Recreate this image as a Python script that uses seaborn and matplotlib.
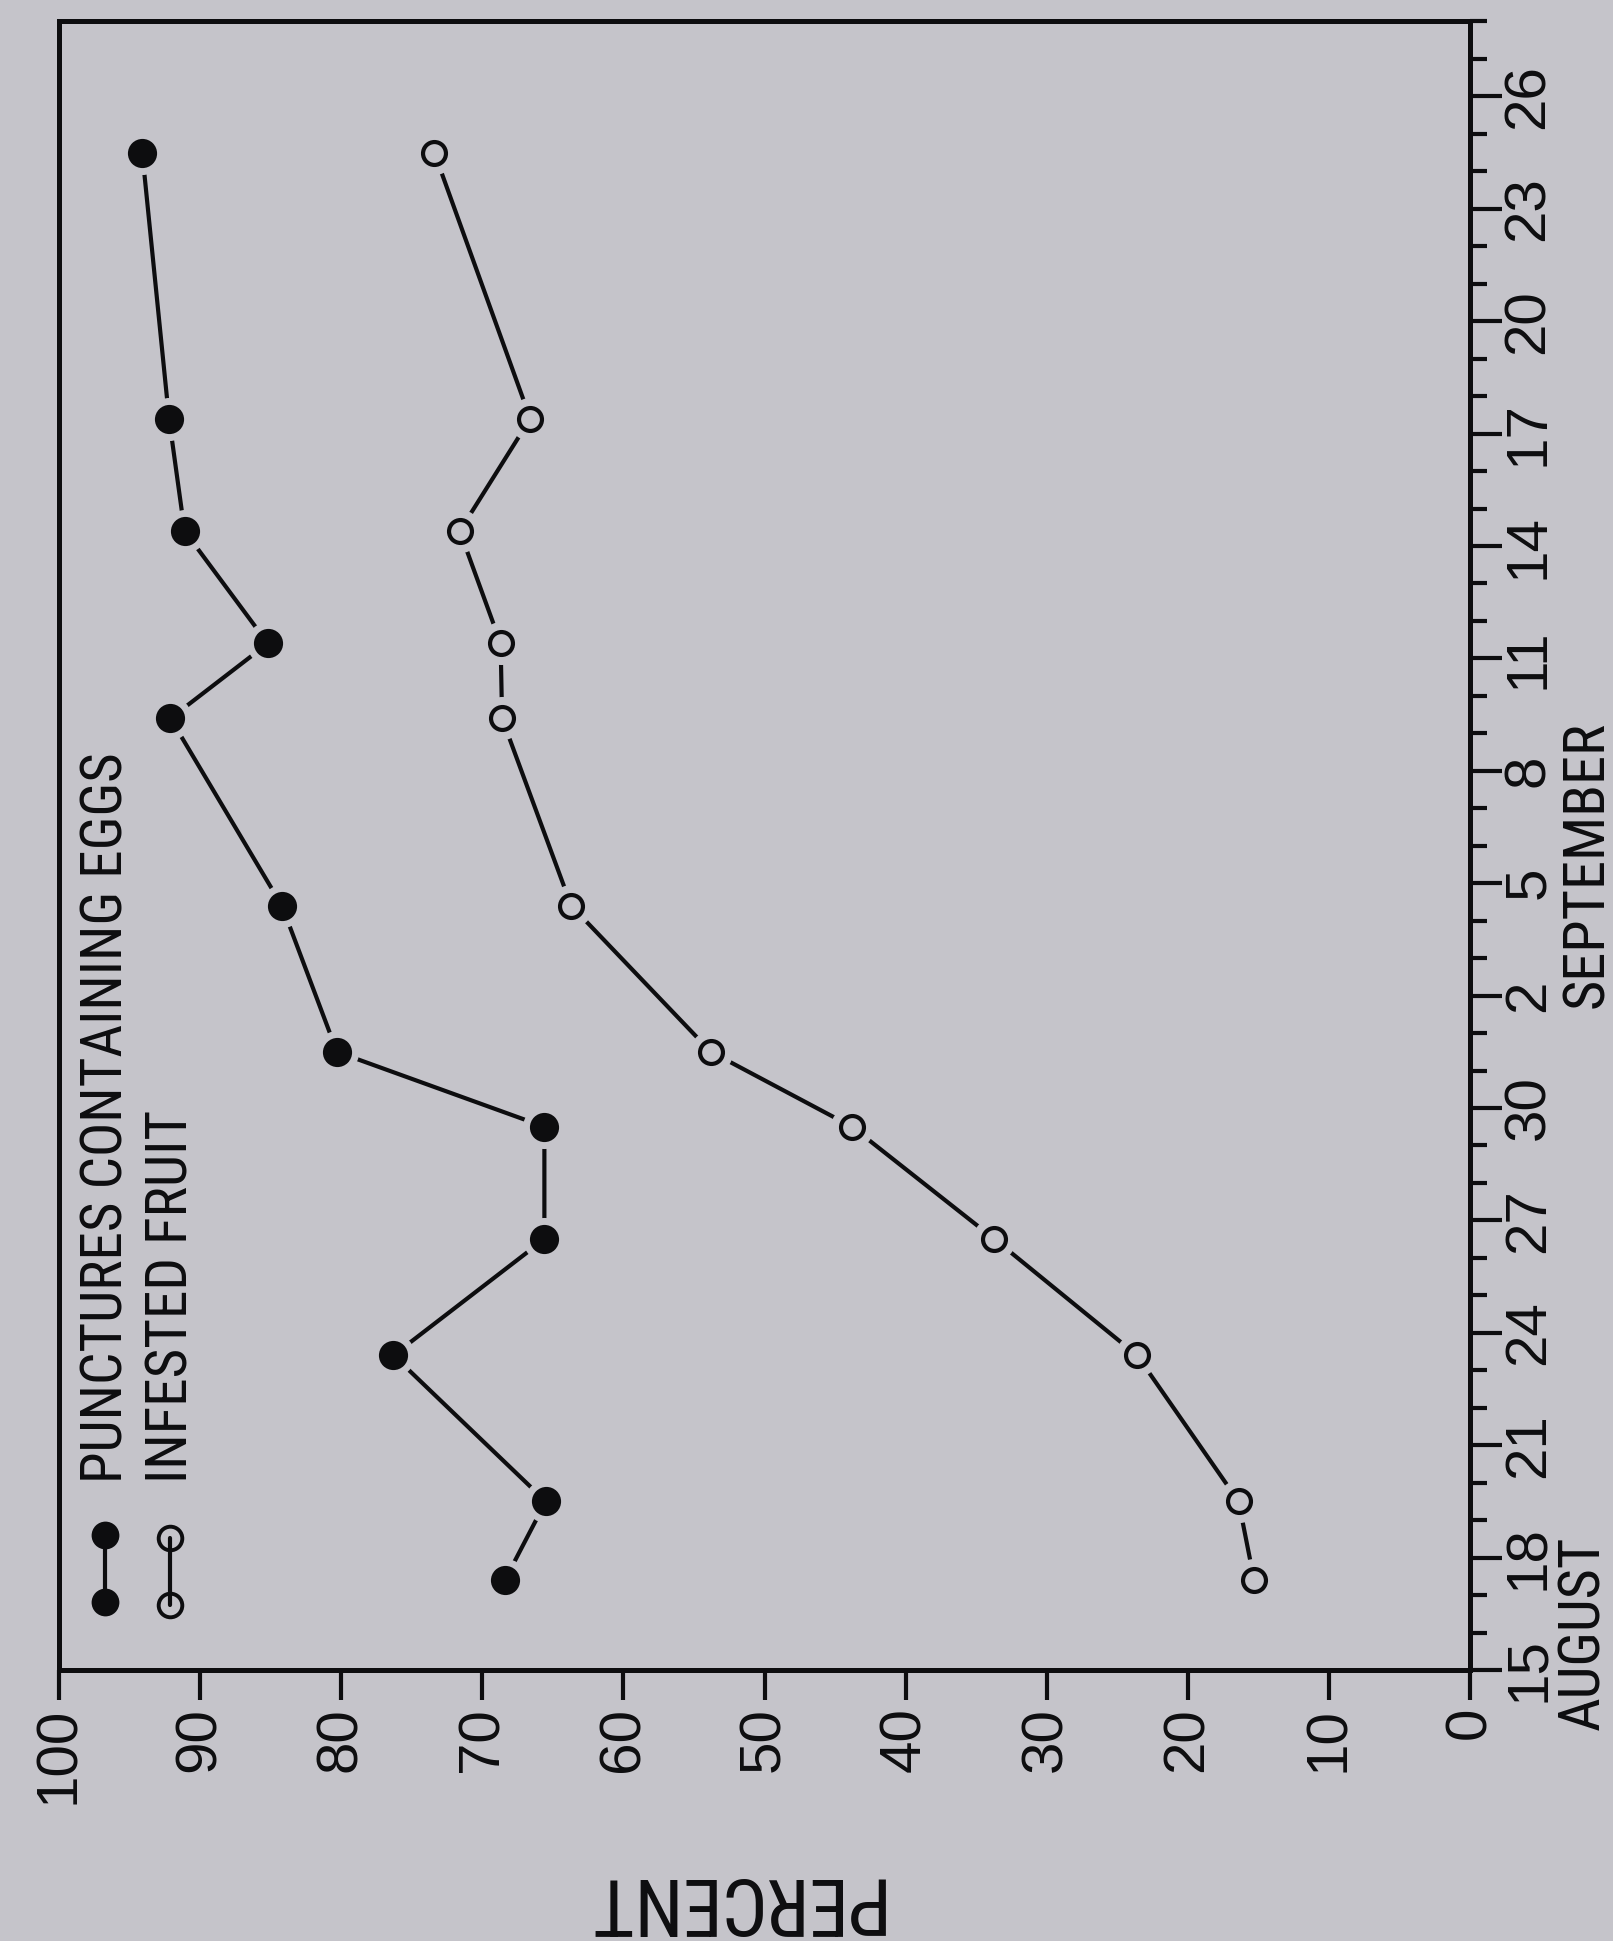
import matplotlib
matplotlib.use("Agg")
import matplotlib.pyplot as plt
import numpy as np
import pandas as pd
import seaborn as sns
from matplotlib import font_manager
from matplotlib.font_manager import FontProperties
from matplotlib.ticker import FixedLocator

# ---- data -----------------------------------------------------------------
# sampling dates as days after 15 August
sample_day = [2.4, 4.5, 8.4, 11.5, 14.5, 16.5, 20.4, 25.4, 27.4, 30.4, 33.4, 40.5]
punctures_with_eggs = [68.4, 65.5, 76.3, 65.6, 65.6, 80.3, 84.2, 92.1, 85.2, 91.1, 92.2, 94.1]
infested_fruit = [15.3, 16.4, 23.6, 33.7, 43.8, 53.8, 63.7, 68.6, 68.7, 71.6, 66.6, 73.4]

series_names = ["PUNCTURES CONTAINING EGGS", "INFESTED FRUIT"]
percent_ticks = list(range(0, 101, 10))
day_ticks = list(range(0, 43, 3))
day_tick_labels = ["15", "18", "21", "24", "27", "30", "2", "5", "8",
                   "11", "14", "17", "20", "23", "26"]
day_minor_ticks = [d for d in range(1, 45) if d % 3]
month_names = ["AUGUST", "SEPTEMBER"]
axis_title = "PERCENT"

# ---- style ----------------------------------------------------------------
BG = "#c5c4ca"
INK = "#0d0d0f"

sns.set_style("white")
installed = {f.name for f in font_manager.fontManager.ttflist}
DIGIT_FONT = "Liberation Sans" if "Liberation Sans" in installed else "DejaVu Sans"
plt.rcParams["font.family"] = [DIGIT_FONT, "DejaVu Sans"]


def condensed_font_file():
    """Return a narrow sans-serif face for the lettering, if one is installed."""
    entries = font_manager.fontManager.ttflist
    regular = lambda f: f.style == "normal" and f.weight in (400, "normal", "regular")
    for name in ["Liberation Sans Narrow", "Roboto Condensed", "Open Sans Condensed",
                 "DejaVu Sans Condensed", "Noto Sans Condensed"]:
        for f in entries:
            if f.name == name and regular(f):
                return f.fname
    for f in entries:
        if (f.stretch in ("condensed", "semi-condensed") and regular(f)
                and "Mono" not in f.name and "Serif" not in f.name):
            return f.fname
    return None


_narrow = condensed_font_file()
LETTER_FP = FontProperties(fname=_narrow) if _narrow else FontProperties(family=DIGIT_FONT)

W, H = 1613, 1941
fig = plt.figure(figsize=(W / 100, H / 100), dpi=100, facecolor=BG)
ax_left, ax_right, ax_bottom, ax_top = 59, 1470, 1670, 21.5
ax = fig.add_axes([ax_left / W, 1 - ax_bottom / H,
                   (ax_right - ax_left) / W, (ax_bottom - ax_top) / H])
ax.set_facecolor(BG)

df = pd.DataFrame({
    "day": sample_day * 2,
    "percent": punctures_with_eggs + infested_fruit,
    "series": [series_names[0]] * len(sample_day) + [series_names[1]] * len(sample_day),
})
filled = df[df["series"] == series_names[0]]
hollow = df[df["series"] == series_names[1]]

# connecting lines (the chart is drawn turned on its side: percent runs across)
sns.lineplot(data=df, x="percent", y="day", units="series", estimator=None,
             sort=False, color=INK, linewidth=3.0, legend=False, ax=ax, zorder=2)
# clear band around every point so the lines stop short of the markers
sns.scatterplot(data=df, x="percent", y="day", s=31 ** 2, color=BG,
                linewidth=0, legend=False, ax=ax, zorder=3)
sns.scatterplot(data=filled, x="percent", y="day", s=21 ** 2, color=INK,
                linewidth=0, legend=False, ax=ax, zorder=4)
sns.scatterplot(data=hollow, x="percent", y="day", s=16.5 ** 2, color=BG,
                edgecolor=INK, linewidth=3.0, legend=False, ax=ax, zorder=4)

# ---- axes -----------------------------------------------------------------
ax.set_xlim(100, 0)
ax.set_ylim(0, 44)
ax.set_xlabel("")
ax.set_ylabel("")
ax.xaxis.set_major_locator(FixedLocator(percent_ticks))
ax.set_xticklabels([str(v) for v in percent_ticks])
ax.yaxis.tick_right()
ax.yaxis.set_major_locator(FixedLocator(day_ticks))
ax.set_yticklabels(day_tick_labels)
ax.yaxis.set_minor_locator(FixedLocator(day_minor_ticks))

for s in ax.spines.values():
    s.set_visible(True)
    s.set_linewidth(3.6)
    s.set_color(INK)

ax.tick_params(axis="x", which="major", direction="out", length=21.5, width=3.0,
               color=INK, pad=5, labelsize=42, labelcolor=INK, labelrotation=90,
               bottom=True, top=False)
ax.tick_params(axis="y", which="major", direction="out", length=23, width=3.0,
               color=INK, pad=0, labelsize=42, labelcolor=INK,
               right=True, left=False, labelright=True, labelleft=False)
ax.tick_params(axis="y", which="minor", direction="out", length=12, width=3.0,
               color=INK, right=True, left=False)
for lab in ax.get_yticklabels():
    lab.set_rotation(90)
    lab.set_va("center")
    lab.set_ha("left")
for lab in ax.get_xticklabels():
    lab.set_ha("center")
    lab.set_va("top")

lettering = []  # (text, wanted length in pixels along the reading direction)

# month names beside the date scale
month_tf = matplotlib.transforms.blended_transform_factory(ax.transAxes, ax.transData)
t = ax.text((1584 - ax_left) / (ax_right - ax_left), 1.0, month_names[0],
            transform=month_tf, rotation=90, ha="center", va="center",
            fontproperties=LETTER_FP, fontsize=42, color=INK)
lettering.append((t, 198))
t = ax.text((1588 - ax_left) / (ax_right - ax_left), 21.5, month_names[1],
            transform=month_tf, rotation=90, ha="center", va="center",
            fontproperties=LETTER_FP, fontsize=42, color=INK)
lettering.append((t, 298))

# axis title, turned with the chart
t = fig.text(730 / W, 1 - 1900 / H, axis_title, rotation=180, ha="center", va="center",
             fontproperties=LETTER_FP, fontsize=57, color=INK)
lettering.append((t, 309))

# ---- key ------------------------------------------------------------------
def ax_xy(px, py):
    return (px - ax_left) / (ax_right - ax_left), (ax_bottom - py) / (ax_bottom - ax_top)

key_rows = [
    dict(x=105, y0=1602, y1=1535, mfc=INK, ms=20, mew=0, length=730),
    dict(x=170, y0=1605, y1=1538, mfc="none", ms=17, mew=2.8, length=373),
]
for name, row in zip(series_names, key_rows):
    x0, y0 = ax_xy(row["x"], row["y0"])
    _, y1 = ax_xy(row["x"], row["y1"])
    ax.plot([x0, x0], [y0, y1], transform=ax.transAxes, color=INK, linewidth=3.0,
            marker="o", ms=row["ms"], mfc=row["mfc"], mec=INK, mew=row["mew"],
            clip_on=False, zorder=5)
    tx, ty = ax_xy(row["x"] + 2, 1483)
    t = ax.text(tx, ty, name, transform=ax.transAxes, rotation=90, ha="center",
                va="bottom", fontproperties=LETTER_FP, fontsize=42, color=INK)
    lettering.append((t, row["length"]))

# size the lettering so each word run spans the same length as drawn by hand
fig.canvas.draw()
renderer = fig.canvas.get_renderer()
for t, wanted in lettering:
    bb = t.get_window_extent(renderer)
    run = bb.width if t.get_rotation() % 180 == 0 else bb.height
    t.set_fontsize(min(t.get_fontsize() * wanted / run, t.get_fontsize()))

fig.savefig("out.png", dpi=100, facecolor=BG)
